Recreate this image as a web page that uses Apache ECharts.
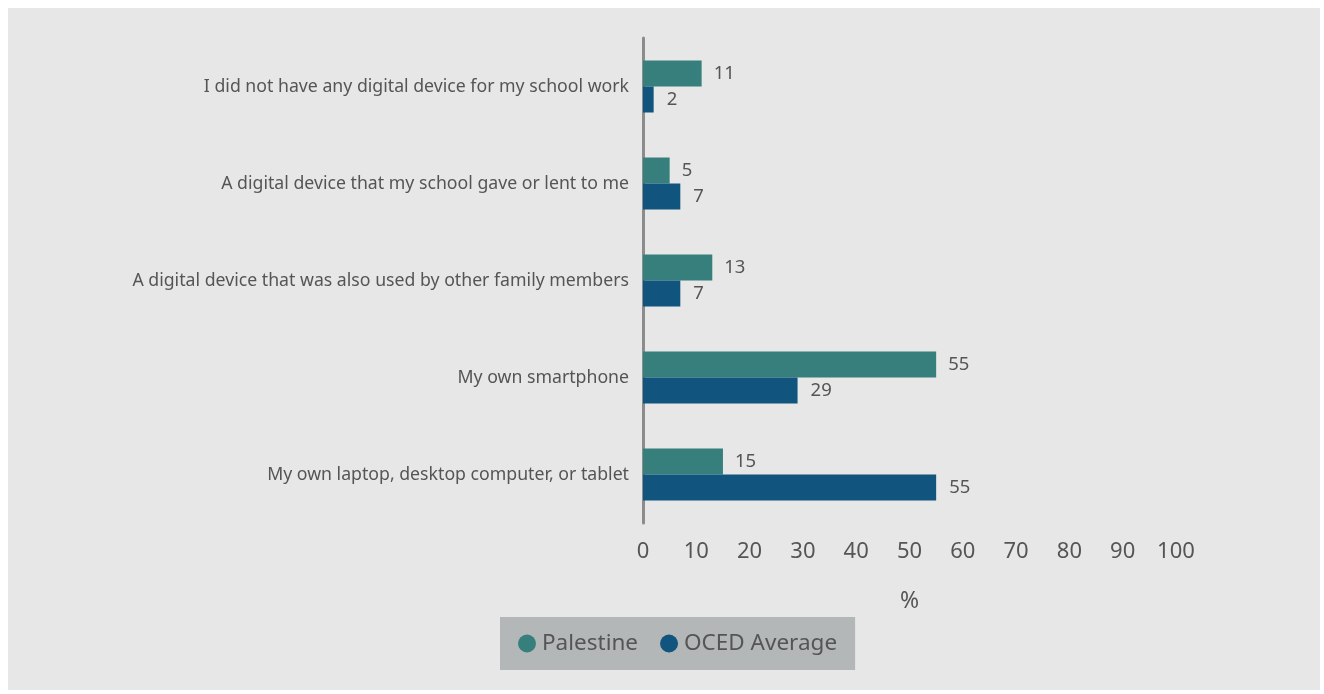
<!DOCTYPE html>
<html>
<head>
<meta charset="utf-8">
<script src="https://cdn.jsdelivr.net/npm/echarts@6/dist/echarts.min.js"></script>
<style>
html,body{margin:0;padding:0;background:#ffffff;width:1324px;height:694px;overflow:hidden;}
#chart{position:absolute;left:8px;top:8px;width:1312px;height:682px;background:#e7e7e7;}
</style>
</head>
<body>
<div id="chart"></div>
<script>
const categories = [
  "I did not have any digital device for my school work",
  "A digital device that my school gave or lent to me",
  "A digital device that was also used by other family members",
  "My own smartphone",
  "My own laptop, desktop computer, or tablet"
];
const palestine = [11, 5, 13, 55, 15];
const oecdAverage = [2, 7, 7, 29, 55];
const xTicks = [0, 10, 20, 30, 40, 50, 60, 70, 80, 90, 100];

const FONT = '"Noto Sans", sans-serif';
const chart = echarts.init(document.getElementById('chart'));
chart.setOption({
  backgroundColor: '#e7e7e7',
  textStyle: { fontFamily: FONT },
  animation: false,
  legend: {
    data: ['Palestine', 'OCED Average'],
    left: 492,
    top: 609,
    backgroundColor: '#b4b7b7',
    padding: [15, 18, 15, 18],
    itemGap: 22,
    itemWidth: 18,
    itemHeight: 18,
    icon: 'circle',
    textStyle: { fontSize: 22.5, color: '#555555', fontFamily: FONT, padding: [0, 0, 0, 1] }
  },
  grid: { left: 635, right: 144, top: 30, bottom: 167, containLabel: false },
  xAxis: {
    type: 'value',
    min: xTicks[0],
    max: xTicks[xTicks.length - 1],
    interval: 10,
    name: '%',
    nameLocation: 'middle',
    nameGap: 67,
    nameTextStyle: { fontSize: 23, color: '#555555', fontFamily: FONT },
    axisLine: { show: false },
    axisTick: { show: false },
    splitLine: { show: false },
    axisLabel: { fontSize: 22, color: '#555555', margin: 18, fontFamily: FONT }
  },
  yAxis: {
    type: 'category',
    data: categories,
    inverse: true,
    axisLine: { show: true, lineStyle: { color: '#8c8c8c', width: 3 } },
    axisTick: { show: false },
    axisLabel: { fontSize: 17.7, color: '#555555', margin: 14, fontFamily: FONT }
  },
  series: [
    {
      name: 'Palestine',
      type: 'bar',
      data: palestine,
      barWidth: 26,
      barGap: '0%',
      itemStyle: { color: '#367f7c' },
      label: { show: true, position: 'right', distance: 12, fontSize: 18.5, color: '#555555', fontFamily: FONT }
    },
    {
      name: 'OCED Average',
      type: 'bar',
      data: oecdAverage,
      barWidth: 26,
      itemStyle: { color: '#11557e' },
      label: { show: true, position: 'right', distance: 13, fontSize: 18.5, color: '#555555', fontFamily: FONT }
    }
  ]
});
</script>
</body>
</html>
